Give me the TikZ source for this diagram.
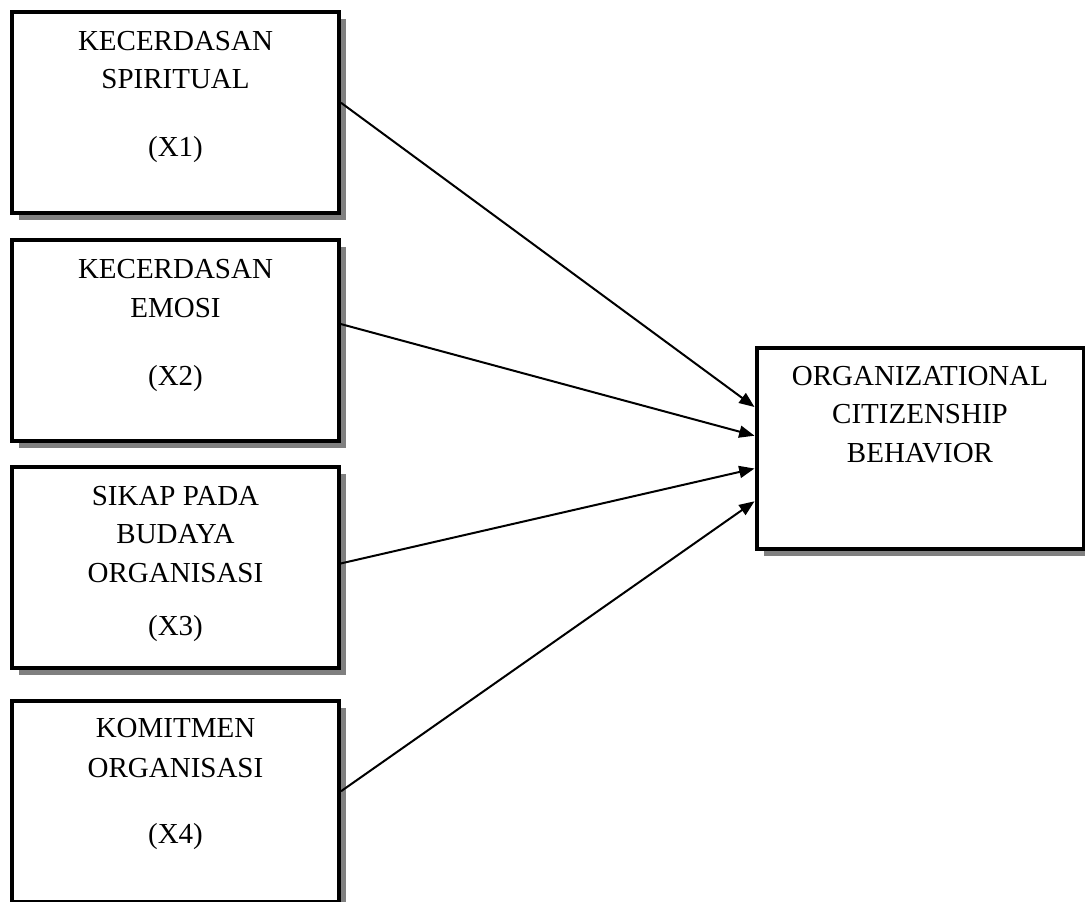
\documentclass[tikz,border=0pt]{standalone}
\usepackage{fontspec}
\setmainfont{Liberation Serif}
\usetikzlibrary{arrows.meta,shadows,calc}
\begin{document}
\begin{tikzpicture}[x=0.75pt,y=-0.75pt,
  varbox/.style={draw=black, line width=3pt, fill=white,
    minimum width=245.25pt, minimum height=150.75pt, inner sep=0pt,
    drop shadow={shadow xshift=5.25pt, shadow yshift=-5.25pt, fill=black!50, opacity=1}},
  lbl/.style={font=\fontsize{21.75}{26}\selectfont, anchor=base, inner sep=0pt},
  conn/.style={line width=1.5pt, -{Triangle[length=11.5pt,width=9pt]}}]
\useasboundingbox (0,0) rectangle (1085,902);

% boxes
\node[varbox] (b1) at (175.5,113) {};
\node[varbox] (b2) at (175.5,340.5) {};
\node[varbox] (b3) at (175.5,567.5) {};
\node[varbox] (b4) at (175.5,801.5) {};
\node[varbox] (y) at (920,448) {};

% texts
\node[lbl] (t1a) at (175.5,51) {KECERDASAN};
\node[lbl] (t1b) at (175.5,89) {SPIRITUAL};
\node[lbl] (t1c) at (175.5,157) {(X1)};

\node[lbl] (t2a) at (175.5,279) {KECERDASAN};
\node[lbl] (t2b) at (175.5,317) {EMOSI};
\node[lbl] (t2c) at (175.5,385) {(X2)};

\node[lbl] (t3a) at (175.5,505) {SIKAP PADA};
\node[lbl] (t3b) at (175.5,543) {BUDAYA};
\node[lbl] (t3c) at (175.5,582) {ORGANISASI};
\node[lbl] (t3d) at (175.5,635) {(X3)};

\node[lbl] (t4a) at (175.5,737) {KOMITMEN};
\node[lbl] (t4b) at (175.5,777) {ORGANISASI};
\node[lbl] (t4c) at (175.5,843) {(X4)};

\node[lbl] (tya) at (920,385) {ORGANIZATIONAL};
\node[lbl] (tyb) at (920,423) {CITIZENSHIP};
\node[lbl] (tyc) at (920,462) {BEHAVIOR};

% connectors
\draw[conn] ($(b1.north east)!0.45!(b1.south east)$) -- ($(y.north west)!0.30!(y.south west)$);
\draw[conn] ($(b2.north east)!0.42!(b2.south east)$) -- ($(y.north west)!0.44!(y.south west)$);
\draw[conn] ($(b3.north east)!0.48!(b3.south east)$) -- ($(y.north west)!0.60!(y.south west)$);
\draw[conn] ($(b4.north east)!0.45!(b4.south east)$) -- ($(y.north west)!0.76!(y.south west)$);
\end{tikzpicture}
\end{document}
